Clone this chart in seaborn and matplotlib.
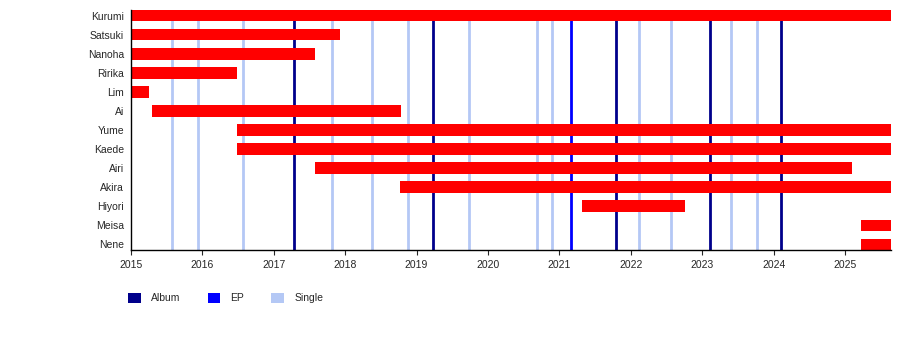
import matplotlib
matplotlib.use("Agg")
import matplotlib.pyplot as plt
from matplotlib.patches import Patch
import seaborn as sns

# Members and their active periods (decimal years)
members = ["Kurumi", "Satsuki", "Nanoha", "Ririka", "Lim", "Ai", "Yume",
           "Kaede", "Airi", "Akira", "Hiyori", "Meisa", "Nene"]
start = [2015.0, 2015.0, 2015.0, 2015.0, 2015.0, 2015.30, 2016.485,
         2016.485, 2017.577, 2018.767, 2021.32, 2025.224, 2025.224]
end = [2025.644, 2017.927, 2017.577, 2016.485, 2015.252, 2018.777, 2025.644,
       2025.644, 2025.098, 2025.644, 2022.76, 2025.644, 2025.644]

# Release dates
albums = [2017.287, 2019.234, 2021.797, 2023.113, 2024.108]
eps = [2021.167]
singles = [2015.578, 2015.943, 2016.569, 2017.811, 2018.380, 2018.884,
           2019.738, 2020.690, 2020.901, 2022.119, 2022.563, 2023.408,
           2023.772]

years = list(range(2015, 2026))

sns.set_style("ticks")
plt.rcParams["font.family"] = ["Liberation Sans", "DejaVu Sans"]

c_member = "#ff0000"
c_album = "#00008b"
c_ep = "#0000ff"
c_single = "#b4c8f5"
fs = 7.5

fig = plt.figure(figsize=(9.0, 3.45), dpi=100)
ax = fig.add_axes([131 / 900, 1 - 250 / 345, 760 / 900, 240 / 345])

rows = list(range(len(members)))
bar_h = 0.6

ax.vlines(singles, -0.5, 13, color=c_single, lw=2.0, zorder=1)
ax.vlines(eps, -0.5, 13, color=c_ep, lw=2.0, zorder=1)
ax.vlines(albums, -0.5, 13, color=c_album, lw=2.0, zorder=1)

widths = [e - s for s, e in zip(start, end)]
ax.barh(rows, widths, left=start, height=bar_h, color=c_member,
        edgecolor="none", zorder=2)

ax.set_ylim(len(members) - 1 + bar_h / 2, -bar_h / 2)
ax.set_xlim(2015.0, 2025.644)

ax.set_yticks(rows)
ax.set_yticklabels(members, fontsize=fs)
ax.tick_params(axis="y", length=0, pad=5)
ax.set_xticks(years)
ax.set_xticklabels([str(y) for y in years], fontsize=fs)
ax.tick_params(axis="x", length=3.5, width=0.8, pad=4)

sns.despine(ax=ax, top=True, right=True)
for s in ("left", "bottom"):
    ax.spines[s].set_linewidth(1.0)
    ax.spines[s].set_color("black")

handles = [Patch(facecolor=c_album, edgecolor="none", label="Album"),
           Patch(facecolor=c_ep, edgecolor="none", label="EP"),
           Patch(facecolor=c_single, edgecolor="none", label="Single")]
fig.legend(handles=handles, loc="center left",
           bbox_to_anchor=(124 / 900, 1 - 298 / 345), ncol=3, frameon=False,
           fontsize=fs, handlelength=1.2, handleheight=1.2,
           handletextpad=1.0, columnspacing=2.6, borderaxespad=0)

fig.savefig("out.png", dpi=100)
